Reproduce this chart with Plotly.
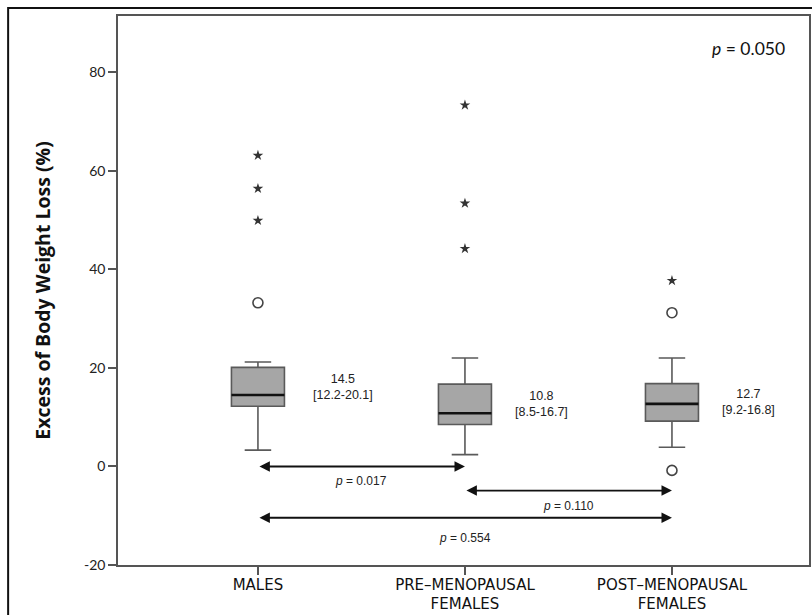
import plotly.graph_objects as go

# Groups and box-plot summary statistics (% excess body weight loss)
groups = ["MALES", "PRE\u2013MENOPAUSAL<br>FEMALES", "POST\u2013MENOPAUSAL<br>FEMALES"]
medians = [14.5, 10.8, 12.7]
q1 = [12.2, 8.5, 9.2]
q3 = [20.1, 16.7, 16.8]
lower_whisker = [3.3, 2.4, 3.9]
upper_whisker = [21.2, 22.0, 22.0]

# Outliers: mild (circles) and extreme (stars), one list per group
mild_outliers = [[33.2], [], [31.2, -0.8]]
extreme_outliers = [[63.1, 56.4, 49.9], [73.3, 53.4, 44.2], [37.7]]

# Pairwise comparisons (group a, group b, p-value) and overall p-value
comparisons = [(0, 1, "0.017"), (1, 2, "0.110"), (0, 2, "0.554")]
overall_p = "0.050"

y_ticks = [-20, 0, 20, 40, 60, 80]
y_tick_text = [str(v) for v in y_ticks]

# Layout constants
BOX_W = 0.256
ARROW_LEVELS = [0.0, -4.9, -10.4]
TEXT_LEVELS = [-2.9, -8.1, -14.6]
LABEL_DX = [0.41, 0.37, 0.37]

xs = list(range(len(groups)))
fig = go.Figure()

fig.add_trace(go.Box(
    x=xs, q1=q1, median=medians, q3=q3,
    lowerfence=lower_whisker, upperfence=upper_whisker,
    width=BOX_W, whiskerwidth=0.5, boxpoints=False,
    fillcolor="#a6a6a6", line=dict(color="#5a5a5a", width=1.6),
    hoverinfo="skip", showlegend=False,
))

# Thick black median bars
mx, my = [], []
for i, m in zip(xs, medians):
    mx += [i - BOX_W / 2, i + BOX_W / 2, None]
    my += [m, m, None]
fig.add_trace(go.Scatter(x=mx, y=my, mode="lines",
                         line=dict(color="#111111", width=2.6),
                         hoverinfo="skip", showlegend=False))

# Outlier markers
cx, cy, sx, sy = [], [], [], []
for i in xs:
    cx += [i] * len(mild_outliers[i]); cy += mild_outliers[i]
    sx += [i] * len(extreme_outliers[i]); sy += extreme_outliers[i]
fig.add_trace(go.Scatter(x=cx, y=cy, mode="markers",
                         marker=dict(symbol="circle-open", size=10, color="#444444",
                                     line=dict(width=1.6, color="#444444")),
                         hoverinfo="skip", showlegend=False))
fig.add_trace(go.Scatter(x=sx, y=sy, mode="markers",
                         marker=dict(symbol="star", size=8, color="#333333"),
                         hoverinfo="skip", showlegend=False))

annotations = []
# Median [IQR] labels next to each box
for i in xs:
    annotations.append(dict(
        x=i + LABEL_DX[i], y=(q1[i] + q3[i]) / 2, xref="x", yref="y",
        text=f"{medians[i]}<br>[{q1[i]}-{q3[i]}]", showarrow=False,
        font=dict(family="Liberation Sans, Arial", size=12.5, color="#222222"),
        align="center",
    ))

# Comparison arrows with p-values
for (a, b, p), ya, yt in zip(comparisons, ARROW_LEVELS, TEXT_LEVELS):
    annotations.append(dict(
        x=b, y=ya, ax=a, ay=ya, xref="x", yref="y", axref="x", ayref="y",
        text="", showarrow=True, arrowhead=2, startarrowhead=2,
        arrowside="end+start", arrowsize=1.1, startarrowsize=1.1,
        arrowwidth=1.9, arrowcolor="#111111", standoff=0, startstandoff=0,
    ))
    annotations.append(dict(
        x=(a + b) / 2, y=yt, xref="x", yref="y",
        text=f"<i>p</i> = {p}", showarrow=False,
        font=dict(family="Liberation Sans, Arial", size=12, color="#222222"),
    ))

annotations.append(dict(
    x=0.968, y=0.94, xref="paper", yref="paper", xanchor="right", yanchor="middle",
    text=f"<i>p</i> = {overall_p}", showarrow=False,
    font=dict(family="Lato, Open Sans", size=17.5, color="#111111"),
))

# Outer frame around the whole figure
shapes = [dict(type="rect", xref="paper", yref="paper",
               x0=-0.159, x1=1.02, y0=-0.12, y1=1.0146,
               line=dict(color="#111111", width=2), fillcolor="rgba(0,0,0,0)", layer="above")]

fig.update_layout(
    width=812, height=615,
    margin=dict(l=118, r=3, t=16, b=50),
    paper_bgcolor="white", plot_bgcolor="white",
    annotations=annotations, shapes=shapes,
    showlegend=False,
)
fig.update_xaxes(
    range=[-0.676, 2.662], tickmode="array", tickvals=xs, ticktext=groups,
    showline=True, mirror=True, linecolor="#555555", linewidth=1.6,
    ticks="outside", ticklen=8, tickwidth=1.5, tickcolor="#555555",
    showgrid=False, zeroline=False, automargin=False, ticklabelstandoff=-3,
    tickfont=dict(family="DejaVu Sans", size=15, color="#111111"),
)
fig.update_yaxes(
    range=[-20, 91.4], tickmode="array", tickvals=y_ticks, ticktext=y_tick_text,
    showline=True, mirror=True, linecolor="#555555", linewidth=1.6,
    ticks="outside", ticklen=8, tickwidth=1.5, tickcolor="#555555",
    showgrid=False, zeroline=False, automargin=False,
    tickfont=dict(family="Lato, Open Sans", size=14, color="#222222"),
    title=dict(text="<b>Excess of Body Weight Loss (%)</b>", standoff=28,
               font=dict(family="Open Sans", size=19.5, color="#111111")),
)

fig.write_html("out.html")
